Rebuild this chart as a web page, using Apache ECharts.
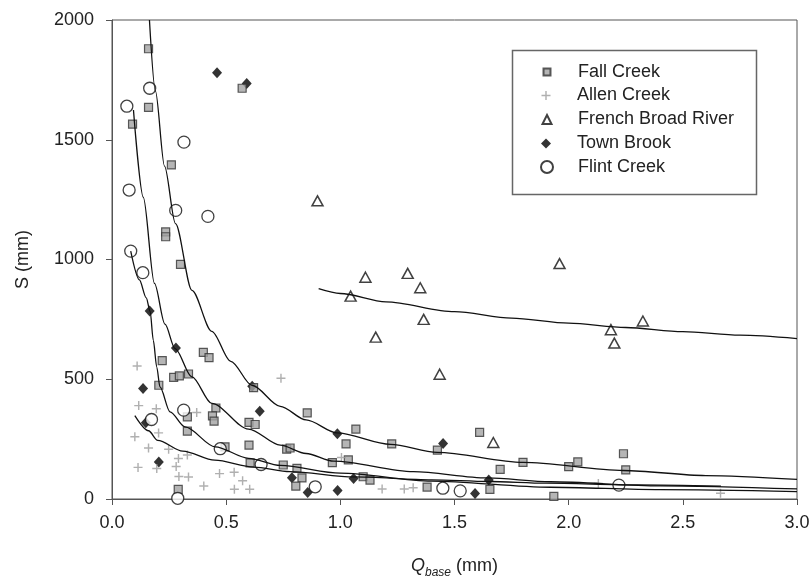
<!DOCTYPE html>
<html>
<head>
<meta charset="utf-8">
<script src="https://cdn.jsdelivr.net/npm/echarts@6/dist/echarts.min.js"></script>
<style>
  html, body { margin: 0; padding: 0; background: #ffffff; }
  #chart { width: 812px; height: 582px; }
</style>
</head>
<body>
<div id="chart"></div>
<script>
// Storage S (mm) against baseflow Q_base (mm) for five watersheds, [Q_base, S]
const fallCreek = [
  [0.16, 1880], [0.57, 1715], [0.16, 1635], [0.09, 1565], [0.26, 1395],
  [0.235, 1115], [0.235, 1095], [0.30, 980], [0.40, 612], [0.425, 590],
  [0.22, 578], [0.27, 508], [0.295, 514], [0.335, 522], [0.62, 465],
  [0.205, 475], [0.455, 380], [0.33, 343], [0.44, 347], [0.447, 325],
  [0.60, 320], [0.627, 311], [0.33, 283], [0.855, 360], [0.495, 218],
  [0.60, 225], [0.765, 208], [0.78, 213], [1.025, 230], [0.605, 151],
  [0.75, 142], [0.81, 128], [0.965, 152], [1.035, 163], [0.832, 88],
  [0.805, 54], [0.29, 40], [1.068, 292], [1.225, 230], [1.425, 204],
  [1.61, 278], [1.70, 124], [1.80, 153], [2.0, 135], [2.04, 155],
  [1.935, 11], [1.10, 93], [1.13, 79], [1.38, 50], [1.655, 40],
  [2.24, 189], [2.25, 122]
];
const allenCreek = [
  [0.11, 555], [0.74, 504], [0.117, 390], [0.194, 377], [0.371, 361],
  [0.10, 260], [0.16, 213], [0.248, 208], [0.204, 276], [0.291, 169],
  [0.33, 184], [0.114, 132], [0.196, 127], [0.281, 136], [1.005, 173],
  [0.293, 94], [0.335, 92], [0.471, 106], [0.535, 112], [0.572, 76],
  [0.402, 54], [0.536, 41], [0.603, 41], [1.183, 42], [1.28, 42],
  [1.319, 47], [2.13, 65], [2.665, 24]
];
const frenchBroadRiver = [
  [0.90, 1245], [1.045, 847], [1.11, 926], [1.295, 942], [1.35, 882],
  [1.365, 750], [1.155, 676], [1.435, 521], [1.96, 983], [1.67, 236],
  [2.325, 743], [2.185, 707], [2.20, 651]
];
const townBrook = [
  [0.46, 1780], [0.59, 1735], [0.165, 785], [0.28, 630], [0.614, 471],
  [0.136, 461], [0.647, 366], [0.148, 318], [0.987, 272], [0.205, 155],
  [0.788, 89], [0.857, 27], [0.988, 35], [1.058, 86], [1.45, 232],
  [1.59, 23], [1.65, 79]
];
const flintCreek = [
  [0.065, 1640], [0.165, 1715], [0.315, 1490], [0.075, 1290], [0.279, 1205],
  [0.42, 1180], [0.082, 1035], [0.135, 945], [0.314, 371], [0.173, 332],
  [0.474, 210], [0.653, 144], [0.89, 51], [0.288, 3], [1.449, 45],
  [1.525, 34], [2.22, 58]
];

// Fitted recession curves, [Q_base, S]
const curveFrenchBroad = [
  [0.905, 878], [1.0, 858], [1.2, 823], [1.5, 782], [1.75, 755],
  [2.0, 734], [2.25, 716], [2.5, 699], [2.75, 684], [3.0, 670]
];
const curveUpper = [
  [0.164, 2000], [0.19, 1704], [0.23, 1390], [0.278, 1150], [0.35, 871],
  [0.437, 700], [0.52, 575], [0.613, 475], [0.737, 387], [0.85, 330],
  [0.985, 276], [1.22, 228], [1.424, 195], [1.8, 153], [2.24, 119],
  [2.6, 98], [3.0, 82]
];
const curveMiddle = [
  [0.094, 1624], [0.137, 1260], [0.186, 900], [0.232, 730], [0.276, 628],
  [0.35, 510], [0.437, 399], [0.598, 292], [0.737, 225], [0.85, 190],
  [0.971, 158], [1.32, 114], [1.643, 88], [1.92, 72], [2.4, 55], [3.0, 42]
];
const curveLower = [
  [0.082, 1035], [0.12, 915], [0.15, 840], [0.167, 783], [0.181, 662],
  [0.196, 551], [0.21, 468], [0.254, 364], [0.32, 301], [0.452, 218],
  [0.598, 170], [0.737, 140], [1.0, 108], [1.4, 75], [1.92, 49],
  [2.4, 39], [3.0, 31]
];
const curveAllen = [
  [0.10, 348], [0.16, 285], [0.2, 245], [0.31, 200], [0.45, 162],
  [0.62, 133], [0.78, 114], [1.06, 92], [1.4, 80], [1.65, 73],
  [1.9, 66], [2.3, 59], [2.667, 54]
];

// Axis ticks
const xTickLabels = ['0.0', '0.5', '1.0', '1.5', '2.0', '2.5', '3.0'];
const yTickLabels = ['0', '500', '1000', '1500', '2000'];

const FONT = '"Liberation Sans", Arial, Helvetica, sans-serif';
const PLUS = 'path://M4.2,0 L5.8,0 L5.8,4.2 L10,4.2 L10,5.8 L5.8,5.8 L5.8,10 L4.2,10 L4.2,5.8 L0,5.8 L0,4.2 L4.2,4.2 Z';

const scatterStyles = {
  'Fall Creek':          { symbol: 'rect', size: 8, legendSize: 7,
                           itemStyle: { color: '#a3a3a3', borderColor: '#333', borderWidth: 1.2 } },
  'Allen Creek':         { symbol: PLUS, size: 9, legendSize: 9,
                           itemStyle: { color: '#9c9c9c' } },
  'French Broad River':  { symbol: 'triangle', size: [11, 10], legendSize: 9,
                           itemStyle: { color: '#ffffff', borderColor: '#111', borderWidth: 1.5 } },
  'Town Brook':          { symbol: 'diamond', size: [10, 11], legendSize: 10,
                           itemStyle: { color: '#000000' } },
  'Flint Creek':         { symbol: 'circle', size: 12, legendSize: 12,
                           itemStyle: { color: '#ffffff', borderColor: '#111', borderWidth: 1.3 } }
};
const scatterData = {
  'Fall Creek': fallCreek,
  'Allen Creek': allenCreek,
  'French Broad River': frenchBroadRiver,
  'Town Brook': townBrook,
  'Flint Creek': flintCreek
};
const legendOrder = ['Fall Creek', 'Allen Creek', 'French Broad River', 'Town Brook', 'Flint Creek'];
const legendRowY = [72, 95.5, 119.5, 143.5, 167];

const scatterSeries = legendOrder.map(name => ({
  name: name,
  type: 'scatter',
  data: scatterData[name],
  symbol: scatterStyles[name].symbol,
  symbolSize: scatterStyles[name].size,
  symbolKeepAspect: true,
  itemStyle: scatterStyles[name].itemStyle,
  emphasis: { disabled: true },
  z: 2
}));
// Town Brook diamonds sit under the circles, so draw Flint Creek last
const drawOrder = ['Town Brook', 'Fall Creek', 'Allen Creek', 'French Broad River', 'Flint Creek'];
scatterSeries.sort((a, b) => drawOrder.indexOf(a.name) - drawOrder.indexOf(b.name));

const curveSeries = [curveFrenchBroad, curveUpper, curveMiddle, curveLower, curveAllen].map((pts, i) => ({
  name: 'fit' + i,
  type: 'line',
  data: pts,
  showSymbol: false,
  smooth: 0.3,
  smoothMonotone: 'x',
  silent: true,
  lineStyle: { color: '#111', width: 1.3 },
  z: 3
}));

// One legend per row so every marker keeps its own size; icon box is square
// and the label is pushed right with left padding on the text.
const legends = legendOrder.map((name, i) => {
  const s = scatterStyles[name].legendSize;
  return {
    data: [name],
    left: 546 - s / 2,
    top: legendRowY[i] - 10,
    padding: 0,
    itemWidth: s,
    itemHeight: s,
    symbolKeepAspect: true,
    selectedMode: false,
    textStyle: {
      fontSize: 18, lineHeight: 20, color: '#222', fontFamily: FONT,
      padding: [0, 0, 0, 577 - (546 + s / 2) - 5]
    }
  };
});

const chart = echarts.init(document.getElementById('chart'), null, { renderer: 'canvas' });
chart.setOption({
  animation: false,
  backgroundColor: '#ffffff',
  textStyle: { fontFamily: FONT },
  grid: {
    left: 112, right: 15, top: 20, bottom: 83,
    show: true, borderColor: '#555', borderWidth: 1,
    outerBoundsMode: 'none'
  },
  legend: legends,
  graphic: [{
    type: 'rect',
    left: 510, top: 48,
    shape: { width: 244, height: 144 },
    style: { fill: 'none', stroke: '#666', lineWidth: 1.5 },
    silent: true
  }],
  xAxis: {
    type: 'value',
    min: 0, max: 3, interval: 0.5,
    splitLine: { show: false },
    axisLine: { show: true, onZero: false, lineStyle: { color: '#555', width: 1 } },
    axisTick: { show: true, inside: false, length: 6, lineStyle: { color: '#555' } },
    axisLabel: {
      fontSize: 18, color: '#222', margin: 15, fontFamily: FONT,
      formatter: v => xTickLabels[Math.round(v / 0.5)]
    },
    name: '{q|Q}{s|base}{n| (mm)}',
    nameLocation: 'middle',
    nameGap: 54,
    nameTextStyle: {
      fontFamily: FONT,
      rich: {
        q: { fontSize: 18, fontStyle: 'italic', color: '#222', lineHeight: 26, verticalAlign: 'middle', fontFamily: FONT },
        s: { fontSize: 12, fontStyle: 'italic', color: '#222', lineHeight: 26, verticalAlign: 'bottom', fontFamily: FONT },
        n: { fontSize: 18, color: '#222', lineHeight: 26, verticalAlign: 'middle', fontFamily: FONT }
      }
    }
  },
  yAxis: {
    type: 'value',
    min: 0, max: 2000, interval: 500,
    splitLine: { show: false },
    axisLine: { show: true, onZero: false, lineStyle: { color: '#555', width: 1 } },
    axisTick: { show: true, inside: false, length: 6, lineStyle: { color: '#555' } },
    axisLabel: {
      fontSize: 18, color: '#222', margin: 18, fontFamily: FONT,
      formatter: v => yTickLabels[Math.round(v / 500)]
    },
    name: 'S (mm)',
    nameLocation: 'middle',
    nameGap: 80,
    nameTextStyle: { fontSize: 18, color: '#222', fontFamily: FONT }
  },
  series: scatterSeries.concat(curveSeries)
});
</script>
</body>
</html>
